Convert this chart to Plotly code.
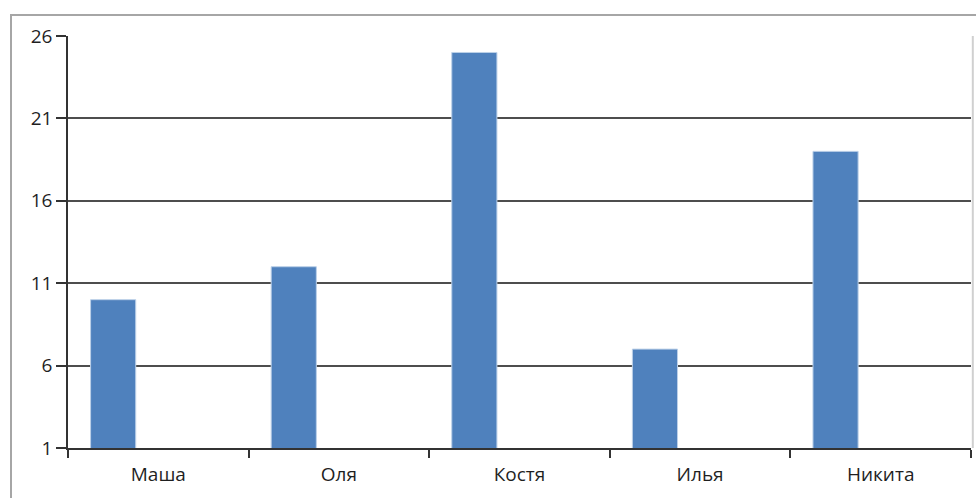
import plotly.graph_objects as go

categories = ["Маша", "Оля", "Костя", "Илья", "Никита"]
values = [10, 12, 25, 7, 19]
y_ticks = [1, 6, 11, 16, 21, 26]

FONT = "Open Sans"
TXT = "#1f1f1f"

fig = go.Figure()
fig.add_trace(go.Bar(
    x=categories,
    y=values,
    width=0.25,
    offset=-0.375,
    marker=dict(color="#4F81BD", line=dict(color="#bcd0e8", width=1)),
    showlegend=False,
    hoverinfo="x+y",
))

fig.update_layout(
    width=976,
    height=498,
    margin=dict(l=68, r=5, t=36, b=50),
    paper_bgcolor="white",
    plot_bgcolor="white",
    font=dict(family=FONT, size=19, color=TXT),
    xaxis=dict(
        type="category",
        tickson="boundaries",
        ticks="outside",
        ticklen=8,
        tickwidth=1.5,
        tickcolor="#333333",
        showline=True,
        linecolor="#333333",
        linewidth=1.5,
        showgrid=False,
        tickfont=dict(family=FONT, size=19, color=TXT),
        ticklabelstandoff=8,
        range=[-0.5, 4.5],
    ),
    yaxis=dict(
        range=[1, 26],
        tickvals=y_ticks,
        ticktext=[str(v) for v in y_ticks],
        ticks="outside",
        ticklen=10,
        tickwidth=1.5,
        tickcolor="#333333",
        showline=True,
        linecolor="#333333",
        linewidth=1.5,
        showgrid=True,
        gridcolor="#4d4d4d",
        gridwidth=2,
        zeroline=False,
        tickfont=dict(family=FONT, size=19, color=TXT),
    ),
    shapes=[
        # light right border of the plot area
        dict(type="line", xref="paper", yref="paper", x0=1.002, x1=1.002, y0=0, y1=1,
             line=dict(color="#d0d0d0", width=2)),
        # outer chart frame (cropped at right and bottom)
        dict(type="rect", xref="paper", yref="paper",
             x0=(11 - 68) / 903, x1=1.05, y0=-0.3, y1=(448 - 15) / 412,
             line=dict(color="#a6a6a6", width=2), fillcolor="rgba(0,0,0,0)", layer="below"),
    ],
)

fig.write_html("out.html")
